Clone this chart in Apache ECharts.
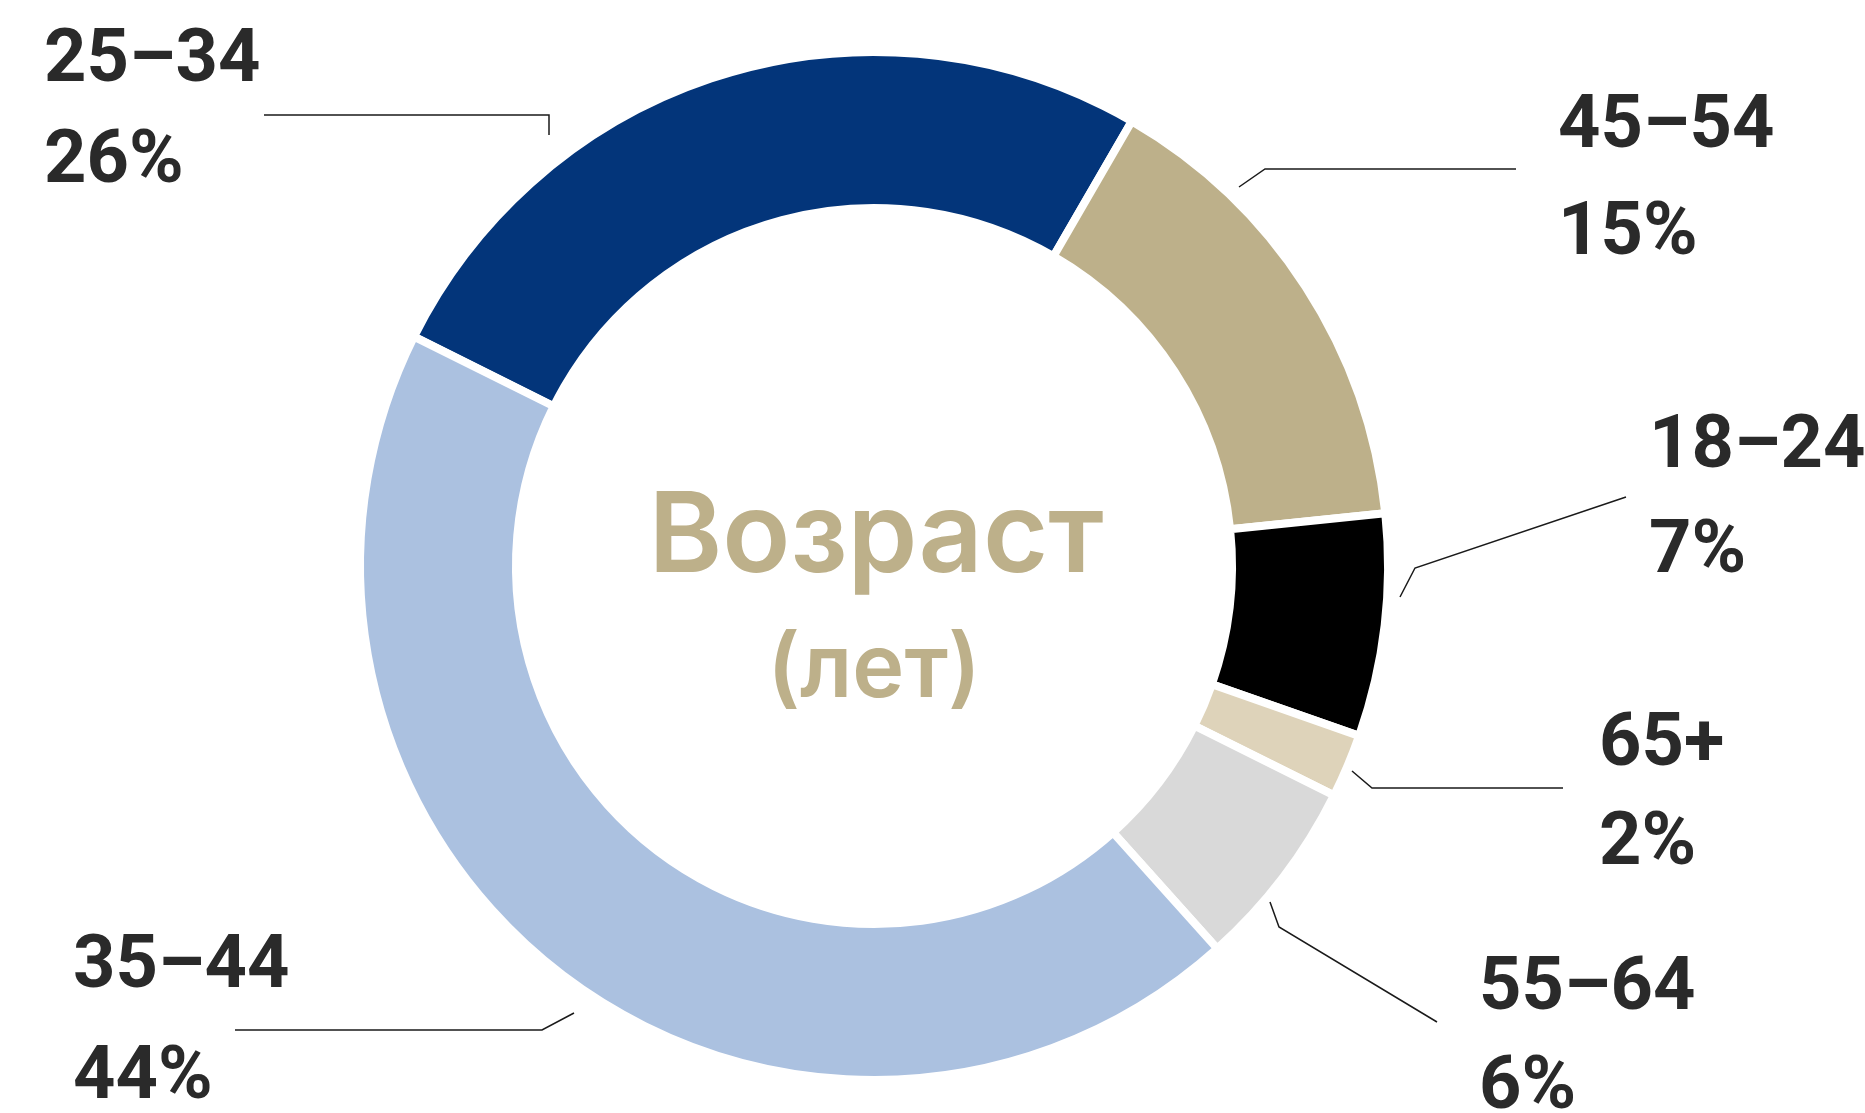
<!DOCTYPE html>
<html>
<head>
<meta charset="utf-8">
<script src="https://cdn.jsdelivr.net/npm/echarts@6/dist/echarts.min.js"></script>
<style>
  html, body { margin: 0; padding: 0; background: #fff; }
  #age-donut { width: 1865px; height: 1113px; }
</style>
</head>
<body>
<div id="age-donut"></div>
<script>
// data, clockwise from the navy slice
var ageGroups = ["25–34", "45–54", "18–24", "65+", "55–64", "35–44"];
var shares = [26, 15, 7, 2, 6, 44];
var sliceColors = ["#03357a", "#bdb08a", "#000000", "#ded3ba", "#d9d9d9", "#abc1e0"];
var centerTitle = "Возраст";
var centerSub = "(лет)";

// label anchors (left, top) and leader lines, in px
var labelPos = [[44, 12], [1558, 75], [1649, 396], [1599, 697], [1479, 941], [73, 913]];
var lineGap = [101, 107, 105, 99, 99, 111];
var leaders = [
  [[549, 135], [549, 115], [264, 115]],
  [[1239, 187], [1265, 169], [1516, 169]],
  [[1400, 597], [1415, 568], [1626, 497]],
  [[1352, 771], [1372, 788], [1563, 788]],
  [[1270, 902], [1279, 927], [1437, 1022]],
  [[574, 1013], [542, 1030], [235, 1030]]
];

var labelFont = "Roboto, 'DejaVu Sans Condensed', sans-serif";

var chartData = ageGroups.map(function (name, i) {
  return {
    name: name,
    value: shares[i],
    itemStyle: { color: sliceColors[i] },
    label: {
      rich: {
        n: { lineHeight: lineGap[i] },
        p: { lineHeight: lineGap[i] }
      }
    }
  };
});

var myChart = echarts.init(document.getElementById("age-donut"), null, { renderer: "canvas" });
var option = {
  animation: false,
  backgroundColor: "#ffffff",
  graphic: [
    {
      type: "text",
      x: 876,
      y: 538,
      style: {
        text: centerTitle,
        align: "center",
        verticalAlign: "middle",
        fill: "#bdb08a",
        font: "600 112px Inter, 'Noto Sans', sans-serif"
      }
    },
    {
      type: "text",
      x: 874,
      y: 671,
      style: {
        text: centerSub,
        align: "center",
        verticalAlign: "middle",
        fill: "#bdb08a",
        font: "600 88px Inter, 'Noto Sans', sans-serif"
      }
    }
  ],
  series: [
    {
      type: "pie",
      center: [874, 566],
      radius: [358, 514],
      startAngle: 153.5,
      clockwise: true,
      avoidLabelOverlap: false,
      itemStyle: {
        borderColor: "#ffffff",
        borderWidth: 8
      },
      label: {
        show: true,
        formatter: function (p) {
          return "{n|" + p.name + "}\n{p|" + p.value + "%}";
        },
        rich: {
          n: { fontFamily: labelFont, fontWeight: "bold", fontSize: 74, color: "#2a2a2a", lineHeight: 105 },
          p: { fontFamily: labelFont, fontWeight: "bold", fontSize: 74, color: "#2a2a2a", lineHeight: 105 }
        }
      },
      labelLine: {
        show: true,
        lineStyle: { color: "#1a1a1a", width: 1.5 }
      },
      labelLayout: function (params) {
        var i = params.dataIndex;
        return {
          x: labelPos[i][0],
          y: labelPos[i][1],
          align: "left",
          verticalAlign: "top",
          labelLinePoints: leaders[i]
        };
      },
      emphasis: { disabled: true },
      data: chartData
    }
  ]
};
myChart.setOption(option, true);
</script>
</body>
</html>
